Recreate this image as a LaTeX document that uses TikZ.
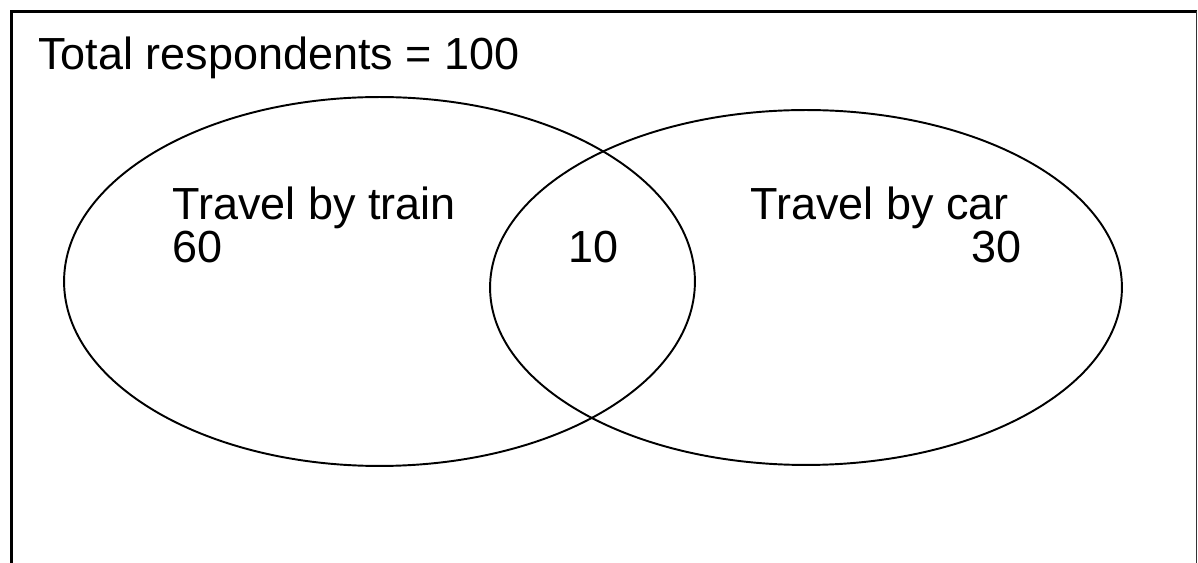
\documentclass[tikz,border=0pt]{standalone}
\usepackage{fontspec}
\setmainfont{Liberation Sans}
\usepackage{tikz}
\usetikzlibrary{shapes.geometric}

\begin{document}
\begin{tikzpicture}[
  x=0.02cm, y=-0.02cm,
  set/.style  ={ellipse, draw, line width=1.1pt, inner sep=0pt},
  txt/.style  ={font=\fontsize{25.6}{30}\selectfont, inner sep=0pt, anchor=base west},
  frame/.style={draw=black, line width=2.2pt},
]
\useasboundingbox (0,0) rectangle (1198,563);
% ---------------- frame (open at the bottom) ----------------
\coordinate (fbl) at (11.5,563);
\coordinate (ftl) at (11.5,11.5);
\coordinate (ftr) at (1196.5,11.5);
\coordinate (fbr) at (1196.5,563);
\draw[frame] (fbl) -- (ftl) -- (ftr);
\draw[line width=0.9pt, draw=black!80] (ftr) -- (fbr);
% ---------------- sets ----------------
\node[set, minimum width=12.62cm, minimum height=7.38cm] (train) at (379.5,281.5) {};
\node[set, minimum width=12.64cm, minimum height=7.10cm] (car)   at (806,287.5)   {};
% ---------------- labels ----------------
\node[txt] (total)    at (38,70)   {Total respondents = 100};
\node[txt] (trainlbl) at (172,220) {Travel by train};
\node[txt] (trainnum) at (172,263) {60};
\node[txt] (bothnum)  at (568,263) {10};
\node[txt] (carlbl)   at (750,220) {Travel by car};
\node[txt, anchor=base east] (carnum) at (1022,263) {30};
\end{tikzpicture}
\end{document}
